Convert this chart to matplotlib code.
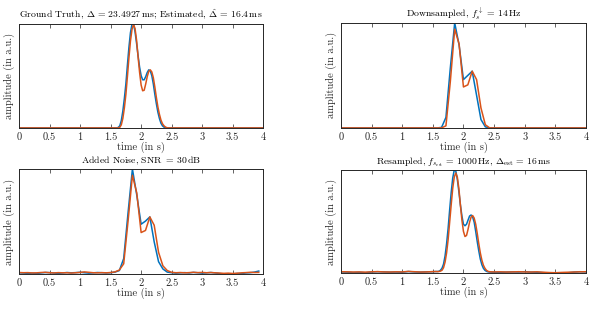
import numpy as np
import matplotlib
matplotlib.use("Agg")
import matplotlib.pyplot as plt
from matplotlib.ticker import FormatStrFormatter

plt.rcParams["font.family"] = "serif"
plt.rcParams["font.serif"] = ["cmr10", "DejaVu Serif"]
plt.rcParams["mathtext.fontset"] = "cm"
plt.rcParams["axes.formatter.use_mathtext"] = True

BLUE = "#0072BD"
ORANGE = "#D95319"
AXC = "#262626"

# ground truth / estimate, pulse region (1.600 .. 2.475 s, step 25 ms)
gt_t = np.round(np.arange(1.6, 2.4751, 0.025), 3)
gt_blue = [0, 0.005, 0.02, 0.07, 0.16, 0.28, 0.42, 0.60, 0.77, 0.91, 0.99, 0.995,
           0.92, 0.81, 0.69, 0.58, 0.50, 0.46, 0.46, 0.49, 0.53, 0.555, 0.545, 0.50,
           0.42, 0.32, 0.23, 0.15, 0.09, 0.045, 0.02, 0.007, 0.002, 0, 0, 0]
gt_orange = [0, 0, 0.005, 0.03, 0.09, 0.19, 0.32, 0.49, 0.67, 0.83, 0.94, 0.99,
             0.95, 0.84, 0.68, 0.53, 0.41, 0.355, 0.36, 0.42, 0.49, 0.54, 0.555, 0.535,
             0.48, 0.39, 0.29, 0.20, 0.13, 0.075, 0.04, 0.02, 0.008, 0.002, 0, 0]

# downsampled at 14 Hz, samples k = 22..35 (rest zero), k = 0..56
fs_ds = 14
ds_k0 = 22
ds_blue = [0, 0.005, 0.10, 0.57, 1.0, 0.79, 0.46, 0.50, 0.54, 0.31, 0.08, 0.01, 0, 0]
ds_orange = [0, 0, 0.02, 0.44, 0.94, 0.80, 0.39, 0.41, 0.54, 0.46, 0.19, 0.03, 0, 0]

# noisy samples, k = 0..55
nz_blue = [0.003, 0.001, -0.002, 0.000, -0.004, 0.002, 0.006, 0.005, 0.001, -0.002,
           0.002, 0.006, 0.003, 0.005, 0.008, 0.004, 0.000, 0.003, 0.006, 0.004,
           0.002, 0.004, 0.010, 0.025, 0.14, 0.58, 1.0, 0.75, 0.47, 0.50,
           0.54, 0.30, 0.11, 0.04, 0.01, 0.004, 0.000, 0.003, 0.005, 0.002,
           0.007, 0.004, 0.000, 0.003, 0.006, 0.002, -0.004, -0.008, -0.006, -0.009,
           -0.003, -0.005, 0.002, 0.004, 0.010, 0.020]
nz_orange = [0.006, 0.004, 0.005, 0.002, 0.003, 0.006, 0.008, 0.004, 0.002, 0.005,
             0.003, 0.004, 0.001, 0.004, 0.007, 0.012, 0.008, 0.004, 0.003, 0.005,
             0.003, 0.006, 0.012, 0.03, 0.09, 0.50, 0.94, 0.77, 0.39, 0.41,
             0.54, 0.46, 0.20, 0.07, 0.025, 0.008, 0.004, 0.006, 0.003, 0.005,
             0.008, 0.005, 0.007, 0.004, 0.006, 0.003, 0.001, -0.002, 0.000, -0.003,
             -0.001, 0.003, 0.005, 0.008, 0.006, 0.007]

# resampled: baseline before (0..1.5, 0.1 s), pulse (1.55..2.45, 25 ms), baseline after (2.5..4.0)
rs_t = np.round(np.concatenate([np.arange(0, 1.51, 0.1),
                                np.arange(1.55, 2.4501, 0.025),
                                np.arange(2.5, 4.001, 0.1)]), 3)
rs_blue = ([0.004, 0.002, -0.002, 0.000, -0.004, 0.003, 0.006, 0.004, 0.002, 0.003,
            0.001, 0.008, 0.004, 0.002, 0.005, 0.006]
           + [0.008, 0.008, 0.01, 0.02, 0.04, 0.08, 0.16, 0.28, 0.43, 0.61,
              0.78, 0.92, 1.0, 0.99, 0.91, 0.79, 0.66, 0.55, 0.47, 0.455,
              0.47, 0.51, 0.55, 0.56, 0.54, 0.49, 0.40, 0.30, 0.21, 0.13,
              0.075, 0.04, 0.02, 0.01, 0.005, 0.003, 0.002]
           + [0.001, 0.000, 0.002, 0.004, 0.003, 0.006, 0.002, 0.001, -0.003, -0.006,
              -0.004, -0.008, -0.005, 0.002, 0.006, 0.004])
rs_orange = ([0.006, 0.005, 0.003, 0.004, 0.002, 0.005, 0.007, 0.004, 0.003, 0.005,
              0.004, 0.009, 0.006, 0.003, 0.004, 0.007]
             + [0.008, 0.007, 0.008, 0.012, 0.02, 0.045, 0.10, 0.19, 0.32, 0.49,
                0.66, 0.82, 0.93, 0.97, 0.93, 0.82, 0.66, 0.51, 0.40, 0.35,
                0.36, 0.42, 0.49, 0.54, 0.555, 0.53, 0.47, 0.38, 0.28, 0.19,
                0.12, 0.07, 0.04, 0.02, 0.01, 0.006, 0.005]
             + [0.004, 0.005, 0.003, 0.004, 0.006, 0.004, 0.003, 0.005, 0.001, -0.002,
                -0.004, -0.001, 0.001, 0.003, 0.005, 0.006])

titles = [r"Ground Truth, $\Delta\, =\, 23.4927\,\mathrm{ms}$; Estimated, $\hat{\Delta}\, =\, 16.4\,\mathrm{ms}$",
          r"Downsampled, $f_s^{\downarrow}\, =\, 14\,\mathrm{Hz}$",
          r"Added Noise, SNR $=\, 30\,\mathrm{dB}$",
          r"Resampled, $f_{s_\mathrm{est}}\, =\, 1000\,\mathrm{Hz}$, $\Delta_\mathrm{est}\, =\, 16\,\mathrm{ms}$"]

# build the series
t1 = np.concatenate([[0], gt_t, [4]])
p1 = [(t1, [0] + gt_blue + [0]), (t1, [0] + gt_orange + [0])]

k_all = np.arange(0, 57)
dsb = np.zeros(57)
dso = np.zeros(57)
dsb[ds_k0:ds_k0 + len(ds_blue)] = ds_blue
dso[ds_k0:ds_k0 + len(ds_orange)] = ds_orange
p2 = [(k_all / fs_ds, dsb), (k_all / fs_ds, dso)]

k_nz = np.arange(len(nz_blue))
p3 = [(k_nz / fs_ds, nz_blue), (k_nz / fs_ds, nz_orange)]

p4 = [(rs_t, rs_blue), (rs_t, rs_orange)]

fig = plt.figure(figsize=(5.98, 3.09), dpi=100)
boxes = [[0.032, 0.586, 0.408, 0.337],
         [0.570, 0.586, 0.410, 0.340],
         [0.032, 0.113, 0.408, 0.340],
         [0.570, 0.116, 0.410, 0.334]]

for box, title, series in zip(boxes, titles, [p1, p2, p3, p4]):
    ax = fig.add_axes(box)
    for (x, y), c in zip(series, [BLUE, ORANGE]):
        ax.plot(x, y, color=c, lw=1.1)
    allv = np.concatenate([np.asarray(s[1], float) for s in series])
    ax.set_ylim(min(allv.min(), 0), allv.max())
    ax.set_xlim(0, 4)
    ax.set_xticks(np.arange(0, 4.01, 0.5))
    ax.xaxis.set_major_formatter(FormatStrFormatter("%g"))
    ax.set_yticks([])
    ax.tick_params(axis="x", direction="in", top=True, length=3, width=0.5,
                   labelsize=7.5, colors=AXC, pad=3)
    for sp in ax.spines.values():
        sp.set_color(AXC)
        sp.set_linewidth(0.7)
    ax.set_title(title, fontsize=7, color="black", pad=4)
    ax.set_xlabel("time (in s)", fontsize=7.5, color=AXC, labelpad=0)
    ax.set_ylabel("amplitude (in a.u.)", fontsize=7.5, color=AXC, labelpad=3)

fig.savefig("out.png", dpi=100)
